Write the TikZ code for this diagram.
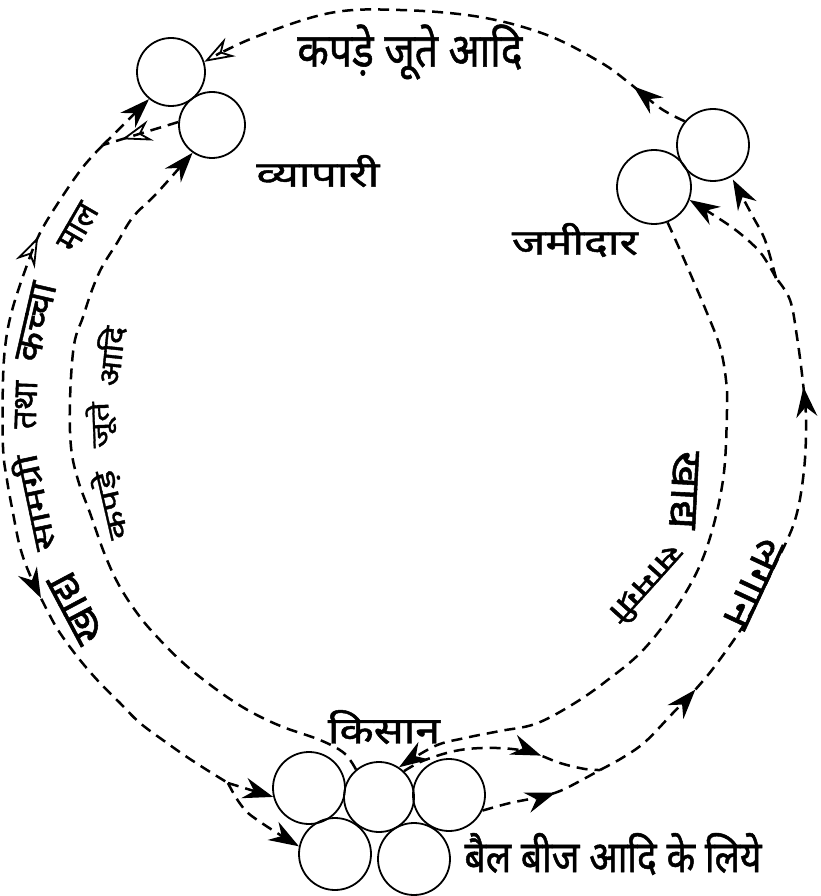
\documentclass[tikz,border=0pt]{standalone}
\usepackage{fontspec}
\usepackage{graphicx}
\newfontfamily\dev[Script=Devanagari,FakeBold=1.2]{Noto Sans}
\usetikzlibrary{arrows.meta,decorations.markings}
\tikzset{
  ball/.style={circle,draw,line width=1.8pt,inner sep=0pt,minimum size=#1},
  flow/.style={line width=2.5pt,dash pattern=on 11pt off 7pt},
  lbl/.style={inner sep=0pt},
  endF/.style={-{Stealth[length=30pt,width=21pt,inset=10pt]}},
  endO/.style={-{Stealth[length=30pt,width=21pt,inset=10pt,open,line width=1.8pt]}},
  fwd/.style={postaction={decorate,decoration={markings,mark=at position #1 with {\arrow{Stealth[length=30pt,width=21pt,inset=10pt]}}}}},
  fwdO/.style={postaction={decorate,decoration={markings,mark=at position #1 with {\arrow{Stealth[length=30pt,width=21pt,inset=10pt,open,line width=1.8pt]}}}}},
  bwdO/.style={postaction={decorate,decoration={markings,mark=at position #1 with {\arrowreversed{Stealth[length=30pt,width=21pt,inset=10pt,open,line width=1.8pt]}}}}},
}
\begin{document}
\begin{tikzpicture}[x=1pt,y=-1pt]
\useasboundingbox (0,0) rectangle (820,896);
% circles
\node[ball=68pt] (t1) at (171,72) {};
\node[ball=66pt] (t2) at (212,125) {};
\node[ball=72pt] (z1) at (713,145) {};
\node[ball=74pt] (z2) at (654,187) {};
\node[ball=72pt] (k1) at (309,788) {};
\node[ball=70pt] (k2) at (379,797) {};
\node[ball=72pt] (k3) at (449,795) {};
\node[ball=72pt] (k4) at (335,854) {};
\node[ball=72pt] (k5) at (414,859) {};
% junctions
\coordinate (jLt) at (103,145);
\coordinate (jLb) at (228,783);
\coordinate (jRt) at (776,278);
\coordinate (jRb) at (600,770);
% top arc: zamindar -> trader
\draw[flow,fwd=0.12,endO] plot[smooth,tension=0.6] coordinates {(z1.140) (660,108) (628,82) (600,62) (547,35) (480,17) (400,10) (330,13) (253,38) (t1.17)};
% left outer
\draw[flow,endF] (jLt) -- (t1.231);
\draw[flow,fwdO=0.75] (t2.175) -- (jLt);
\draw[flow,bwdO=0.15,fwd=0.645] plot[smooth,tension=0.6] coordinates {(jLt) (83,167) (60,200) (40,233) (27,265) (13,307) (6,340) (3,380) (3,447) (7,480) (13,513) (20,547) (30,575) (47,610) (60,633) (80,660) (100,683) (120,703) (140,723) (167,743) (187,757) (207,770) (jLb)};
\draw[flow,endF] (jLb) -- (k1.194);
\draw[flow,endF] plot[smooth] coordinates {(jLb) (248,813) (k4.168)};
% left inner: kisan -> trader
\draw[flow,endF] plot[smooth,tension=0.6] coordinates {(k2.130) (344,753) (320,740) (283,727) (253,713) (227,697) (200,677) (180,660) (160,640) (140,617) (120,587) (105,555) (90,513) (78,480) (71,447) (70,400) (74,345) (83,317) (92,290) (102,267) (117,243) (133,217) (157,193) (t2.235)};
% right inner: zamindar -> kisan
\draw[flow,endF] plot[smooth,tension=0.6] coordinates {(z2.291) (680,250) (693,280) (707,313) (720,347) (726,380) (727,410) (723,480) (707,547) (683,597) (645,648) (605,682) (570,706) (535,724) (500,731) (465,738) (435,746) (k2.56)};
% right outer: kisan -> zamindar
\draw[flow,fwd=0.7] plot[smooth,tension=0.6] coordinates {(k2.46) (425,760) (460,750) (497,748) (530,752) (560,763) (585,769) (jRb)};
\draw[flow,fwd=0.6] plot[smooth,tension=0.6] coordinates {(k3.335) (510,803) (540,797) (560,791) (580,781) (jRb)};
\draw[flow,fwd=0.22,fwd=0.8] plot[smooth,tension=0.6] coordinates {(jRb) (622,758) (645,742) (672,714) (695,690) (718,662) (748,618) (775,565) (795,520) (804,470) (806,420) (803,383) (797,337) (790,300) (jRt)};
\draw[flow,endF] plot[smooth] coordinates {(jRt) (760,252) (733,228) (z2.340)};
\draw[flow,endF,shorten >=3pt] plot[smooth] coordinates {(jRt) (765,240) (752,215) (z1.300)};
% labels
\node[lbl] (lTop) at (410,52) {\resizebox*{225pt}{55pt}{\dev कपड़े जूते आदि}};
\node[lbl] (lVya) at (318,171) {\resizebox*{123pt}{32pt}{\dev व्यापारी}};
\node[lbl] (lZam) at (575,240) {\resizebox*{126pt}{34pt}{\dev जमीदार}};
\node[lbl] (lKis) at (384,727) {\resizebox*{112pt}{34pt}{\dev किसान}};
\node[lbl] (lBail) at (613,854) {\resizebox*{297pt}{42pt}{\dev बैल बीज आदि के लिये}};
% left outer words
\node[lbl,rotate=118] (w1) at (76,608) {\resizebox*{74pt}{28pt}{\dev खाद्य}};
\node[lbl,rotate=102] (w2) at (33,503) {\resizebox*{98pt}{28pt}{\dev सामग्री}};
\node[lbl,rotate=88] (w3) at (26,405) {\resizebox*{48pt}{22pt}{\dev तथा}};
\node[lbl,rotate=77] (w4) at (36,322) {\resizebox*{80pt}{24pt}{\dev कच्चा}};
\node[lbl,rotate=60] (w5) at (78,227) {\resizebox*{50pt}{22pt}{\dev माल}};
% left inner words
\node[lbl,rotate=103] (v1) at (111,505) {\resizebox*{70pt}{30pt}{\dev कपड़े}};
\node[lbl,rotate=92] (v2) at (101,425) {\resizebox*{46pt}{30pt}{\dev जूते}};
\node[lbl,rotate=84] (v3) at (110,356) {\resizebox*{60pt}{28pt}{\dev आदि}};
% right words
\node[lbl,rotate=-93] (r2) at (684,490) {\resizebox*{78pt}{26pt}{\dev खाद्य}};
\node[lbl,rotate=-132] (r1) at (648,585) {\resizebox*{94pt}{26pt}{\dev सामग्री}};
\node[lbl,rotate=-115] (r3) at (753,583) {\resizebox*{94pt}{26pt}{\dev लगान}};
\end{tikzpicture}
\end{document}
